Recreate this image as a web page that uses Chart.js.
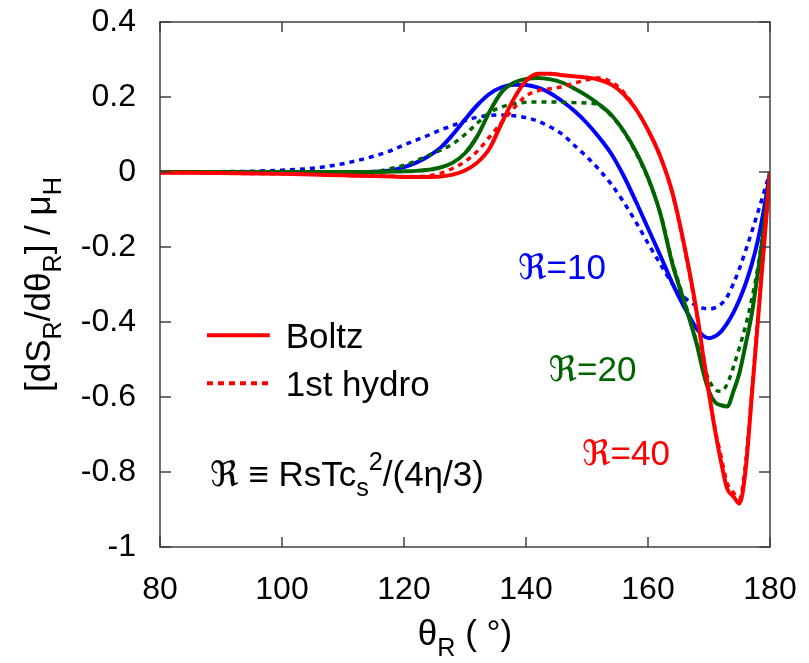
<!DOCTYPE html>
<html>
<head>
<meta charset="UTF-8">
<title>dS_R/dtheta_R versus theta_R</title>
<script src="https://cdn.jsdelivr.net/npm/chart.js"></script>
<style>
  html, body { margin: 0; padding: 0; background: #fff; }
  #wrap { width: 809px; height: 663px; }
</style>
</head>
<body>
<div id="wrap"><canvas id="chart"></canvas></div>
<script>
// theta_R (degrees), shared by all curves
const theta = [80, 85, 90, 95, 100, 105, 110, 115, 118, 120, 122, 124, 126, 128, 130,
  132, 134, 136, 138, 140, 142, 144, 146, 148, 150, 152, 154, 156, 158, 160,
  162, 164, 166, 168, 169, 170, 171, 172, 173, 174, 175, 176, 177, 178, 179, 180];

// R = 10
const boltz10 = [0, 0, 0, 0, 0, 0, 0, 0.001, 0.005, 0.013, 0.025, 0.042, 0.065, 0.1, 0.14,
  0.178, 0.208, 0.226, 0.233, 0.232, 0.225, 0.21, 0.188, 0.162, 0.13, 0.092, 0.048, -0.01, -0.078, -0.15,
  -0.222, -0.297, -0.362, -0.418, -0.436, -0.443, -0.438, -0.425, -0.403, -0.375, -0.34, -0.298, -0.247, -0.183, -0.1, 0];
const hydro10 = [0, 0, 0.001, 0.002, 0.005, 0.01, 0.022, 0.042, 0.058, 0.072, 0.085, 0.098, 0.112, 0.124, 0.137,
  0.146, 0.151, 0.152, 0.15, 0.145, 0.135, 0.12, 0.1, 0.07, 0.04, 0.006, -0.033, -0.08, -0.133, -0.19,
  -0.245, -0.298, -0.335, -0.357, -0.363, -0.365, -0.362, -0.352, -0.332, -0.298, -0.257, -0.21, -0.16, -0.108, -0.055, 0];

// R = 20
const boltz20 = [0, 0, 0, 0, 0, 0, 0, 0, 0.001, 0.002, 0.003, 0.006, 0.012, 0.025, 0.05,
  0.095, 0.16, 0.213, 0.238, 0.248, 0.251, 0.247, 0.238, 0.222, 0.203, 0.18, 0.152, 0.11, 0.055, -0.015,
  -0.11, -0.245, -0.35, -0.46, -0.53, -0.585, -0.614, -0.622, -0.625, -0.585, -0.535, -0.46, -0.38, -0.27, -0.15, 0];
const hydro20 = [0, 0, 0, 0, 0, 0, 0, 0.001, 0.01, 0.018, 0.03, 0.044, 0.058, 0.075, 0.1,
  0.13, 0.158, 0.173, 0.182, 0.186, 0.187, 0.187, 0.186, 0.185, 0.184, 0.178, 0.15, 0.108, 0.052, -0.018,
  -0.108, -0.24, -0.345, -0.455, -0.51, -0.555, -0.58, -0.585, -0.565, -0.52, -0.467, -0.41, -0.34, -0.255, -0.14, 0];

// R = 40
const boltz40 = [-0.002, -0.002, -0.003, -0.004, -0.005, -0.007, -0.009, -0.011, -0.012, -0.013, -0.013, -0.013, -0.012, -0.007, 0.004,
  0.025, 0.062, 0.13, 0.195, 0.243, 0.262, 0.262, 0.258, 0.255, 0.252, 0.246, 0.233, 0.208, 0.168, 0.112,
  0.042, -0.055, -0.2, -0.375, -0.485, -0.59, -0.69, -0.775, -0.845, -0.865, -0.884, -0.794, -0.6, -0.4, -0.2, 0];
const hydro40 = [-0.002, -0.002, -0.003, -0.004, -0.005, -0.006, -0.008, -0.01, -0.011, -0.012, -0.012, -0.01, -0.003, 0.01, 0.028,
  0.055, 0.093, 0.132, 0.17, 0.203, 0.217, 0.222, 0.228, 0.237, 0.246, 0.251, 0.24, 0.213, 0.168, 0.112,
  0.042, -0.058, -0.205, -0.38, -0.485, -0.59, -0.685, -0.76, -0.83, -0.855, -0.872, -0.775, -0.59, -0.39, -0.195, 0];

const xTicks = [80, 100, 120, 140, 160, 180];
const yTicks = [-1, -0.8, -0.6, -0.4, -0.2, 0, 0.2, 0.4];

const RED = '#ff0000';
const GREEN = '#006400';
const BLUE = '#0000ff';
const FONT = '"Liberation Sans", Arial, "DejaVu Sans", sans-serif';
const TICK_FS = 32;
const FS = 35;

function pts(ys) {
    return theta.map((t, i) => ({x: t, y: ys[i]}));
}

function curve(ys, color, dotted) {
    return {
        data: pts(ys),
        borderColor: color,
        backgroundColor: color,
        borderWidth: dotted ? 3.5 : 4,
        borderDash: dotted ? [5, 5] : [],
        pointRadius: 0,
        fill: false,
        cubicInterpolationMode: 'monotone'
    };
}

// text with sub/superscripts, parts = [[text, 0 normal | 1 sub | 2 sup], ...]
function rich(ctx, parts, x, y, size, align) {
    let w = 0;
    const runs = parts.map(([t, m]) => {
        const fs = m ? size * 0.72 : size;
        ctx.font = fs + 'px ' + FONT;
        const tw = ctx.measureText(t).width;
        w += tw;
        return {t, m, fs, tw};
    });
    let cx = align === 'center' ? x - w / 2 : x;
    ctx.textAlign = 'left';
    ctx.textBaseline = 'alphabetic';
    runs.forEach(r => {
        ctx.font = r.fs + 'px ' + FONT;
        const dy = r.m === 1 ? size * 0.3 : (r.m === 2 ? -size * 0.45 : 0);
        ctx.fillText(r.t, cx, y + dy);
        cx += r.tw;
    });
}

const overlay = {
    id: 'overlay',
    afterDatasetsDraw(chart) {
        const {ctx, chartArea: a} = chart;
        const x = chart.scales.x, y = chart.scales.y;
        const px = v => x.getPixelForValue(v);
        const py = v => y.getPixelForValue(v);
        const mid = FS * 0.36;
        ctx.save();

        // frame with inward ticks
        ctx.strokeStyle = '#404040';
        ctx.lineWidth = 1.5;
        ctx.setLineDash([]);
        ctx.strokeRect(a.left, a.top, a.right - a.left, a.bottom - a.top);
        ctx.beginPath();
        xTicks.forEach(v => {
            ctx.moveTo(px(v), a.bottom); ctx.lineTo(px(v), a.bottom - 10);
            ctx.moveTo(px(v), a.top); ctx.lineTo(px(v), a.top + 10);
        });
        yTicks.forEach(v => {
            ctx.moveTo(a.left, py(v)); ctx.lineTo(a.left + 11, py(v));
            ctx.moveTo(a.right, py(v)); ctx.lineTo(a.right - 11, py(v));
        });
        ctx.stroke();

        // legend
        ctx.strokeStyle = RED;
        ctx.lineWidth = 4;
        ctx.beginPath();
        ctx.moveTo(px(77.5 + 10.2), py(-0.435)); ctx.lineTo(px(98.0), py(-0.435));
        ctx.stroke();
        ctx.setLineDash([6, 5]);
        ctx.beginPath();
        ctx.moveTo(px(87.7), py(-0.563)); ctx.lineTo(px(98.2), py(-0.563));
        ctx.stroke();
        ctx.setLineDash([]);
        ctx.fillStyle = '#000';
        rich(ctx, [['Boltz', 0]], px(100.6), py(-0.435) + mid, FS, 'left');
        rich(ctx, [['1st hydro', 0]], px(100.6), py(-0.563) + mid, FS, 'left');

        // definition
        rich(ctx, [['ℜ ≡ RsTc', 0], ['s', 1], ['2', 2], ['/(4η/3)', 0]],
            px(88.2), py(-0.803) + mid, FS, 'left');

        // curve labels
        ctx.fillStyle = BLUE;
        rich(ctx, [['ℜ=10', 0]], px(138.7), py(-0.253) + mid, FS, 'left');
        ctx.fillStyle = GREEN;
        rich(ctx, [['ℜ=20', 0]], px(143.7), py(-0.523) + mid, FS, 'left');
        ctx.fillStyle = RED;
        rich(ctx, [['ℜ=40', 0]], px(149.2), py(-0.747) + mid, FS, 'left');

        // axis titles
        ctx.fillStyle = '#000';
        rich(ctx, [['θ', 0], ['R', 1], [' ( °)', 0]], (a.left + a.right) / 2, 645, FS, 'center');
        ctx.translate(50, (a.top + a.bottom) / 2);
        ctx.rotate(-Math.PI / 2);
        rich(ctx, [['[dS', 0], ['R', 1], ['/dθ', 0], ['R', 1], ['] / μ', 0], ['H', 1]], 0, 0, FS, 'center');

        ctx.restore();
    }
};

function noPad(s) {
    s.paddingTop = 0;
    s.paddingBottom = 0;
    s.paddingLeft = 0;
    s.paddingRight = 0;
}

new Chart(document.getElementById('chart'), {
    type: 'line',
    data: {
        datasets: [
            curve(hydro40, RED, true),
            curve(boltz40, RED, false),
            curve(hydro20, GREEN, true),
            curve(boltz20, GREEN, false),
            curve(hydro10, BLUE, true),
            curve(boltz10, BLUE, false)
        ]
    },
    options: {
        responsive: true,
        maintainAspectRatio: false,
        animation: false,
        layout: { padding: { top: 22, right: 39, left: 0, bottom: 0 } },
        plugins: {
            legend: { display: false },
            tooltip: { enabled: false }
        },
        scales: {
            x: {
                type: 'linear',
                min: 80,
                max: 180,
                afterBuildTicks: s => { s.ticks = xTicks.map(v => ({value: v})); },
                afterFit: s => { s.height = 116; noPad(s); },
                grid: { display: false, drawTicks: false },
                border: { display: false },
                ticks: {
                    color: '#000',
                    padding: 24,
                    maxRotation: 0,
                    autoSkip: false,
                    font: { family: FONT, size: TICK_FS }
                }
            },
            y: {
                type: 'linear',
                min: -1,
                max: 0.4,
                afterBuildTicks: s => { s.ticks = yTicks.map(v => ({value: v})); },
                afterFit: s => { s.width = 160; noPad(s); },
                grid: { display: false, drawTicks: false },
                border: { display: false },
                ticks: {
                    color: '#000',
                    padding: 24,
                    autoSkip: false,
                    font: { family: FONT, size: TICK_FS },
                    callback: v => String(Math.round(v * 10) / 10)
                }
            }
        }
    },
    plugins: [overlay]
});
</script>
</body>
</html>
